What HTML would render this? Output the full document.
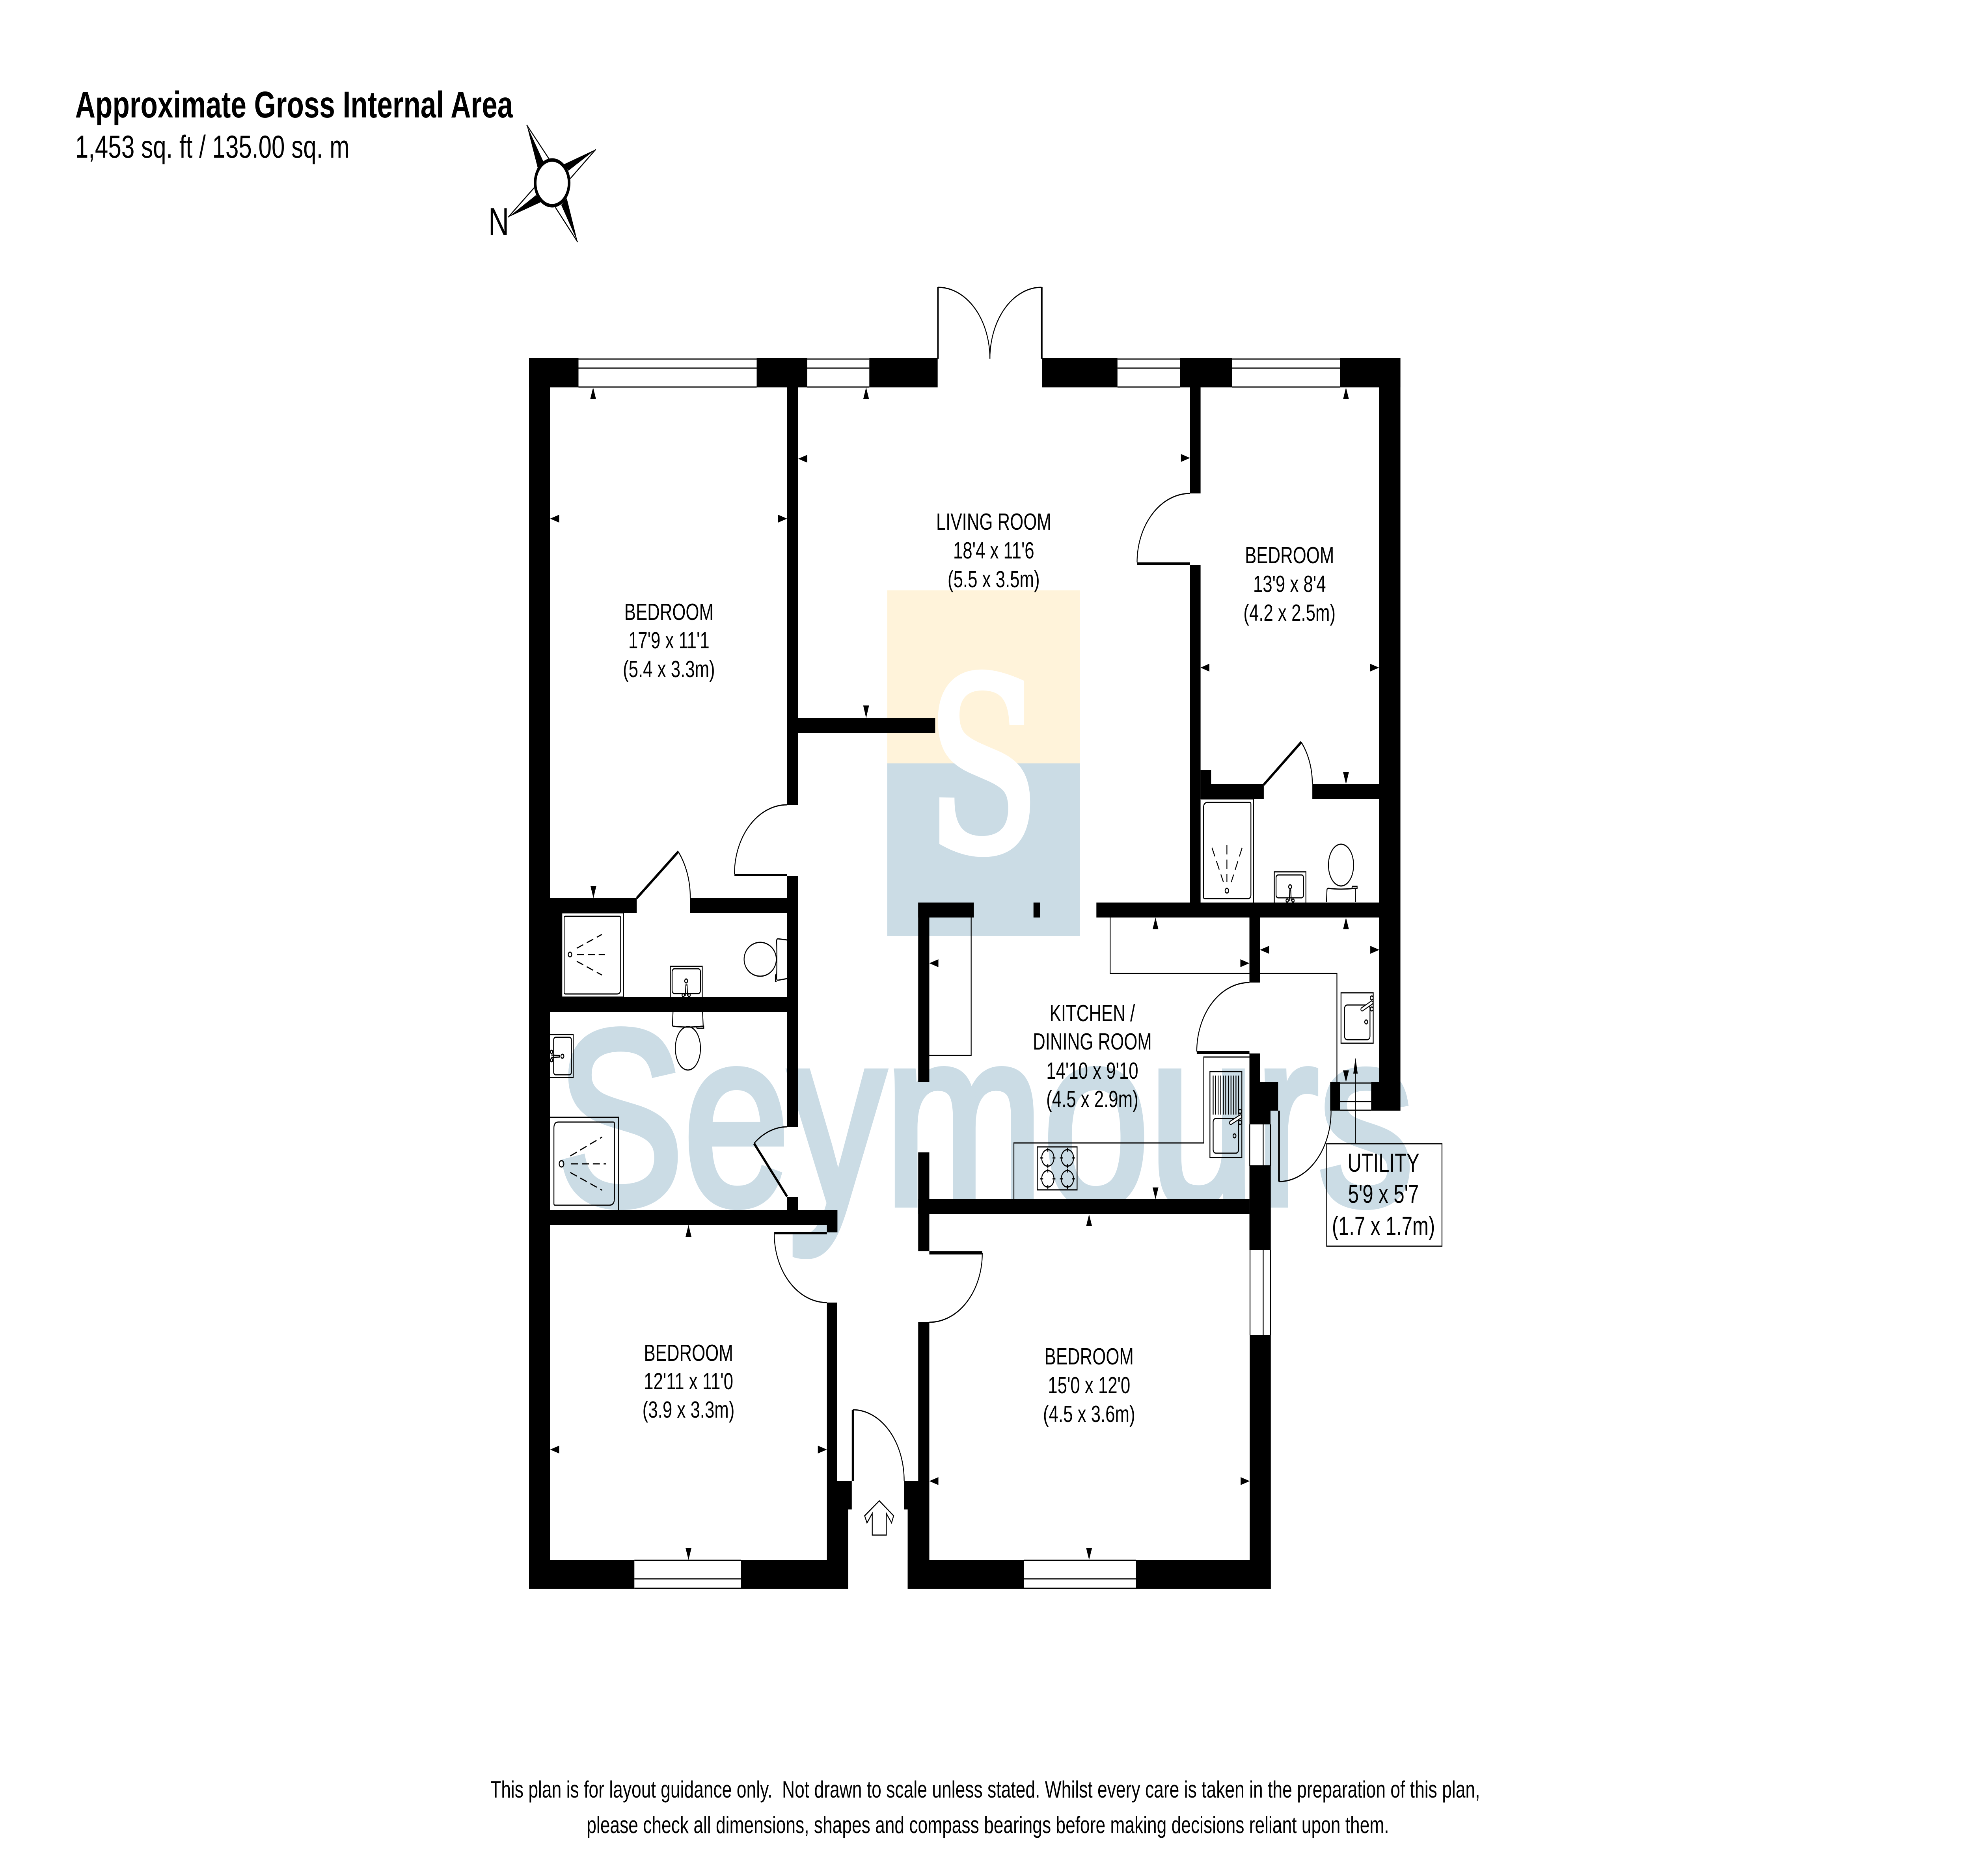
<!DOCTYPE html>
<html lang="en">
<head>
<meta charset="utf-8">
<title>Floor plan</title>
<style>
html,body{margin:0;padding:0;background:#fff;width:100%;height:100%;overflow:hidden}
svg{display:block;width:100vw;height:4760px}
text{font-family:"Liberation Sans",Arial,sans-serif;fill:#000}
.r{font-size:59px;text-anchor:middle}
.u{font-size:66px;text-anchor:middle}
.t{fill:none;stroke:#000;stroke-width:3}
.d{fill:none;stroke:#000;stroke-width:3;stroke-dasharray:24 13}
</style>
</head>
<body>
<svg xmlns="http://www.w3.org/2000/svg" viewBox="0 0 6736 4760" preserveAspectRatio="none">
<rect width="6736" height="4760" fill="#fff"/>

<!-- logo -->
<rect x="3032" y="1498" width="659" height="439" fill="#fff3da"/>
<rect x="3032" y="1937" width="659" height="438" fill="#cbdce5"/>
<text transform="translate(3360,2155) scale(.93,1)" text-anchor="middle" style="font-family:'DejaVu Serif',serif;font-size:600px;fill:#fff;stroke:#fff;stroke-width:22px">S</text>

<!-- watermark -->
<text x="1902" y="3054" textLength="2929" lengthAdjust="spacingAndGlyphs" style="font-size:630px;fill:#cbdce5;stroke:#cbdce5;stroke-width:20px">Seymours</text>

<!-- header -->
<text x="257" y="298" textLength="1496" lengthAdjust="spacingAndGlyphs" style="font-size:95px;font-weight:bold">Approximate Gross Internal Area</text>
<text x="257" y="400" textLength="937" lengthAdjust="spacingAndGlyphs" style="font-size:81px">1,453 sq. ft / 135.00 sq. m</text>

<!-- compass -->
<g>
<polygon points="1800,317 1838,427 1857,410" fill="#000"/>
<line x1="1800" y1="317" x2="1877" y2="404" stroke="#000" stroke-width="3"/>
<polygon points="2036,379 1927,417 1943,433" fill="#000"/>
<line x1="2036" y1="379" x2="1949" y2="453" stroke="#000" stroke-width="3"/>
<polygon points="1974,614 1937,503 1918,520" fill="#000"/>
<line x1="1974" y1="614" x2="1898" y2="526" stroke="#000" stroke-width="3"/>
<polygon points="1737,551 1848,513 1832,495" fill="#000"/>
<line x1="1737" y1="551" x2="1826" y2="476" stroke="#000" stroke-width="3"/>
<circle cx="1887" cy="464" r="58" fill="#fff" stroke="#000" stroke-width="9"/>
<text x="1669" y="596" style="font-size:98px">N</text>
</g>

<!-- walls -->
<g fill="#000">
<rect x="1808" y="909" width="169" height="74"/>
<rect x="2586" y="909" width="173" height="74"/>
<rect x="2971" y="909" width="232" height="74"/>
<rect x="3562" y="909" width="257" height="74"/>
<rect x="4033" y="909" width="178" height="74"/>
<rect x="4580" y="909" width="206" height="74"/>
<rect x="1808" y="909" width="72" height="3122"/>
<rect x="4713" y="909" width="73" height="1909"/>
<rect x="2690" y="983" width="38" height="1059"/>
<rect x="2690" y="2222" width="38" height="638"/>
<rect x="2690" y="3037" width="38" height="33"/>
<rect x="4067" y="983" width="36" height="269"/>
<rect x="4067" y="1433" width="36" height="857"/>
<rect x="2728" y="1822" width="468" height="38"/>
<rect x="4103" y="1990" width="216" height="37"/>
<rect x="4103" y="1953" width="36" height="37"/>
<rect x="4485" y="1990" width="228" height="37"/>
<rect x="3747" y="2290" width="966" height="38"/>
<rect x="3532" y="2290" width="23" height="38"/>
<rect x="3138" y="2290" width="190" height="38"/>
<rect x="3138" y="2290" width="38" height="456"/>
<rect x="3138" y="2924" width="38" height="251"/>
<rect x="3138" y="3355" width="38" height="402"/>
<rect x="4270" y="2328" width="36" height="165"/>
<rect x="4270" y="2673" width="36" height="73"/>
<rect x="4270" y="2746" width="98" height="72"/>
<rect x="4270" y="2818" width="72" height="35"/>
<rect x="4270" y="2959" width="73" height="213"/>
<rect x="4271" y="3388" width="72" height="643"/>
<rect x="3138" y="3043" width="1132" height="38"/>
<rect x="1880" y="2279" width="296" height="37"/>
<rect x="2358" y="2279" width="332" height="37"/>
<rect x="1880" y="2316" width="40" height="214"/>
<rect x="1880" y="2530" width="810" height="38"/>
<rect x="1880" y="3070" width="982" height="38"/>
<rect x="2826" y="3108" width="36" height="19"/>
<rect x="2826" y="3305" width="35" height="452"/>
<rect x="2826" y="3757" width="85" height="73"/>
<rect x="2826" y="3830" width="73" height="201"/>
<rect x="1808" y="3958" width="360" height="73"/>
<rect x="2532" y="3958" width="367" height="73"/>
<rect x="3102" y="3958" width="398" height="73"/>
<rect x="3882" y="3958" width="461" height="73"/>
<rect x="3090" y="3757" width="86" height="73"/>
<rect x="3102" y="3830" width="74" height="201"/>
<rect x="4546" y="2746" width="34" height="72"/>
<rect x="4686" y="2746" width="100" height="72"/>

<!-- door leaves -->
<rect x="3203" y="728" width="5" height="182"/>
<rect x="3557" y="728" width="6" height="182"/>
<rect x="3886" y="1427" width="181" height="6"/>
<rect x="2510" y="2217" width="180" height="6"/>
<rect x="2646" y="3126" width="180" height="6"/>
<rect x="3176" y="3175" width="181" height="8"/>
<rect x="4090" y="2666" width="180" height="8"/>
<rect x="4368" y="2818" width="6" height="180"/>
<rect x="2911" y="3577" width="7" height="180"/>
</g>
<g fill="none" stroke="#000" stroke-width="7">
<line x1="4319" y1="1991" x2="4447" y2="1883"/>
<line x1="2176" y1="2279" x2="2318" y2="2161"/>
<line x1="2577" y1="2901" x2="2690" y2="3036"/>
</g>

<!-- door arcs -->
<g class="t">
<path class="t" d="M3206,729A177,181 0 0 1 3383,910"/>
<path class="t" d="M3559,729A176,181 0 0 0 3383,910"/>
<path class="t" d="M3203,910V983"/>
<path class="t" d="M3886,1427A181,175 0 0 1 4067,1252"/>
<path class="t" d="M4447,1883A166,166 0 0 1 4485,1990"/>
<path class="t" d="M2510,2218A180,176 0 0 1 2690,2042"/>
<path class="t" d="M2318,2161A183,183 0 0 1 2359,2279"/>
<path class="t" d="M2577,2901A177,177 0 0 1 2690,2859"/>
<path class="t" d="M2646,3130A180,175 0 0 0 2826,3305"/>
<path class="t" d="M3357,3180A181,175 0 0 1 3176,3355"/>
<path class="t" d="M4090,2668A180,175 0 0 1 4270,2493"/>
<path class="t" d="M4371,2998A178,179 0 0 0 4549,2819"/>
<path class="t" d="M2914,3577A176,180 0 0 1 3090,3757"/>
</g>

<!-- windows -->
<g class="t">
<path class="t" d="M1977,911H2586M1977,934H2586M1977,982H2586"/>
<path class="t" d="M2759,911H2971M2759,934H2971M2759,982H2971"/>
<path class="t" d="M3819,911H4033M3819,934H4033M3819,982H4033"/>
<path class="t" d="M4211,911H4580M4211,934H4580M4211,982H4580"/>
<path class="t" d="M4580,2748H4686M4580,2795H4686M4580,2817H4686"/>
<path class="t" d="M4271,2853V2959M4317,2853V2959M4342,2853V2959M4271,2958H4342"/>
<path class="t" d="M4272,3172V3388M4317,3172V3388M4342,3172V3388"/>
<path class="t" d="M2168,3959H2532M2168,4006H2532M2168,4030H2532"/>
<path class="t" d="M3500,3959H3882M3500,4006H3882M3500,4030H3882"/>
</g>

<!-- kitchen units -->
<path class="t" d="M3319,2328V2678H3176"/>
<path class="t" d="M3794,2328V2470H4270M4306,2470H4569V2746"/>
<path class="t" d="M4270,2682H4114V2900H3465V3043"/>

<!-- hob -->
<rect class="t" x="3545" y="2910" width="136" height="109"/>
<g class="t">
<circle class="t" cx="3581" cy="2938" r="21"/>
<circle class="t" cx="3648" cy="2938" r="21"/>
<circle class="t" cx="3581" cy="2991" r="21"/>
<circle class="t" cx="3648" cy="2991" r="21"/>
<path class="t" d="M3555,2938h10M3597,2938h10M3581,2912v10M3581,2954v10M3622,2938h10M3664,2938h10M3648,2912v10M3648,2954v10M3555,2991h10M3597,2991h10M3581,2965v10M3581,3007v10M3622,2991h10M3664,2991h10M3648,2965v10M3648,3007v10"/>
</g>

<!-- kitchen sink -->
<rect class="t" x="4135" y="2719" width="109" height="218"/>
<rect class="t" x="4146" y="2838" width="87" height="88" rx="9"/>
<path class="t" d="M4146,2729v99M4154,2729v99M4163,2729v99M4172,2729v99M4181,2729v99M4189,2729v99M4198,2729v99M4207,2729v99M4216,2729v99M4224,2729v99M4233,2729v99"/>
<circle class="t" cx="4238" cy="2820" r="5"/>
<circle class="t" cx="4238" cy="2848" r="5"/>
<circle class="t" cx="4219" cy="2882" r="5"/>
<path d="M4206,2849L4239,2833" fill="none" stroke="#000" stroke-width="11" stroke-linecap="round"/>
<path d="M4206,2849L4239,2833" fill="none" stroke="#fff" stroke-width="6" stroke-linecap="round"/>

<!-- utility sink -->
<rect class="t" x="4583" y="2519" width="110" height="128"/>
<rect class="t" x="4595" y="2550" width="87" height="88" rx="9"/>
<circle class="t" cx="4688" cy="2532" r="5"/>
<circle class="t" cx="4688" cy="2560" r="5"/>
<circle class="t" cx="4669" cy="2593" r="5"/>
<path d="M4655,2561L4688,2544" fill="none" stroke="#000" stroke-width="11" stroke-linecap="round"/>
<path d="M4655,2561L4688,2544" fill="none" stroke="#fff" stroke-width="6" stroke-linecap="round"/>

<!-- utility arrows -->
<line x1="4632" y1="2724" x2="4632" y2="2902" stroke="#000" stroke-width="3"/>
<polygon points="4632.5,2684 4640,2724 4625,2724" fill="#000"/>

<!-- shower 1 (left upper) -->
<rect class="t" x="1920" y="2316" width="211" height="214"/>
<path class="t" d="M1932,2325H2117Q2121,2325 2121,2329V2510Q2121,2522 2109,2522H1932Q1928,2522 1928,2518V2329Q1928,2325 1932,2325Z"/>
<circle class="t" cx="1948" cy="2422" r="6"/>
<path class="d" d="M1971,2406L2057,2371M1972,2422H2067M1971,2439L2057,2474"/>

<!-- shower 2 (left lower) -->
<path class="t" d="M1880,2835H2114V3070"/>
<path class="t" d="M1908,2847H2096Q2100,2847 2100,2851V3040Q2100,3058 2082,3058H1897Q1893,3058 1893,3054V2862Q1893,2847 1908,2847Z"/>
<circle class="t" cx="1919" cy="2953" r="8"/>
<path class="d" d="M1949,2933L2058,2885M1952,2953H2072M1949,2975L2058,3020"/>

<!-- shower 3 (right) -->
<path class="t" d="M4104,2027H4284V2290"/>
<path class="t" d="M4127,2036H4271Q4275,2036 4275,2040V2270Q4275,2280 4265,2280H4117Q4113,2280 4113,2276V2050Q4113,2036 4127,2036Z"/>
<circle class="t" cx="4193" cy="2260" r="6"/>
<path class="d" d="M4193,2144V2238M4142,2151L4181,2238M4245,2151L4208,2238"/>

<!-- sink A -->
<path class="t" d="M2291,2530V2452H2400V2530"/>
<rect class="t" x="2297" y="2458" width="97" height="63" rx="8"/>
<circle class="t" cx="2345" cy="2489" r="5"/>
<path class="t" d="M2342,2527L2344,2499H2348L2350,2527"/>
<circle class="t" cx="2335" cy="2525" r="4"/>
<circle class="t" cx="2355" cy="2525" r="4"/>

<!-- sink B -->
<path class="t" d="M1880,2625H1959V2734H1880"/>
<rect class="t" x="1892" y="2632" width="61" height="95" rx="7"/>
<circle class="t" cx="1922" cy="2680" r="5"/>
<path class="t" d="M1884,2677L1912,2678V2682L1884,2683"/>
<circle class="t" cx="1885" cy="2669" r="4"/>
<circle class="t" cx="1885" cy="2690" r="4"/>

<!-- sink C -->
<path class="t" d="M4355,2290V2212H4463V2290"/>
<rect class="t" x="4361" y="2220" width="94" height="58" rx="7"/>
<circle class="t" cx="4409" cy="2250" r="5"/>
<path class="t" d="M4406,2286L4408,2258H4411L4413,2286"/>
<circle class="t" cx="4399" cy="2285" r="4"/>
<circle class="t" cx="4419" cy="2285" r="4"/>

<!-- toilets -->
<ellipse class="t" cx="2598" cy="2434" rx="55" ry="43"/>
<path class="t" d="M2690,2385L2659,2382Q2654,2382 2654,2388Q2656,2434 2654,2482Q2654,2488 2660,2487L2690,2483"/>
<path class="t" d="M2654,2472L2650,2474V2490H2654"/>
<ellipse class="t" cx="2351" cy="2660" rx="43" ry="55"/>
<path class="t" d="M2300,2568L2298,2600Q2298,2604 2302,2604Q2350,2608 2400,2604Q2404,2604 2403,2600L2401,2568"/>
<path class="t" d="M2380,2604L2382,2609H2405V2604H2394"/>
<ellipse class="t" cx="4583" cy="2195" rx="43" ry="53"/>
<path class="t" d="M4533,2289L4535,2258Q4535,2254 4540,2254Q4583,2258 4628,2254Q4632,2254 4632,2258L4633,2289"/>
<path class="t" d="M4620,2254L4622,2249H4638V2254H4626"/>

<!-- dimension arrows -->
<g fill="#000">
<polygon points="2027,983 2037,1013 2017,1013"/>
<polygon points="2960,983 2970,1013 2950,1013"/>
<polygon points="3949,2328 3959,2358 3939,2358"/>
<polygon points="4600,2328 4610,2358 4590,2358"/>
<polygon points="4600,983 4610,1013 4590,1013"/>
<polygon points="2353,3108 2363,3138 2343,3138"/>
<polygon points="3722,3081 3732,3111 3712,3111"/>
<polygon points="2960,1822 2970,1790 2950,1790"/>
<polygon points="4600,1990 4610,1959 4590,1959"/>
<polygon points="2028,2279 2038,2248 2018,2248"/>
<polygon points="3949,3043 3959,3013 3939,3013"/>
<polygon points="4600,2746 4610,2716 4590,2716"/>
<polygon points="2353,3958 2363,3928 2343,3928"/>
<polygon points="3722,3958 3732,3928 3712,3928"/>
<polygon points="1880,1316 1911,1306 1911,1326"/>
<polygon points="2728,1164 2759,1154 2759,1174"/>
<polygon points="4103,1694 4133,1684 4133,1704"/>
<polygon points="3176,2444 3207,2434 3207,2454"/>
<polygon points="4306,2410 4337,2400 4337,2420"/>
<polygon points="1880,3678 1911,3668 1911,3688"/>
<polygon points="3176,3758 3207,3748 3207,3768"/>
<polygon points="2690,1316 2659,1306 2659,1326"/>
<polygon points="4067,1162 4036,1152 4036,1172"/>
<polygon points="4713,1694 4682,1684 4682,1704"/>
<polygon points="4270,2444 4239,2434 4239,2454"/>
<polygon points="4714,2410 4683,2400 4683,2420"/>
<polygon points="2826,3678 2795,3668 2795,3688"/>
<polygon points="4271,3758 4240,3748 4240,3768"/>
</g>

<!-- entry arrow -->
<polygon points="3005,3808 3054,3846 3047,3864 3029,3840 3029,3895 2981,3895 2981,3840 2963,3864 2955,3846" fill="#fff" stroke="#000" stroke-width="3"/>

<!-- utility box -->
<rect class="t" x="4534" y="2902" width="394" height="260"/>

<!-- room labels -->
<text class="r" x="2286" y="1573">BEDROOM</text>
<text class="r" x="2286" y="1645">17'9 x 11'1</text>
<text class="r" x="2286" y="1718">(5.4 x 3.3m)</text>

<text class="r" x="3396" y="1344">LIVING ROOM</text>
<text class="r" x="3396" y="1417">18'4 x 11'6</text>
<text class="r" x="3396" y="1490">(5.5 x 3.5m)</text>

<text class="r" x="4407" y="1429">BEDROOM</text>
<text class="r" x="4407" y="1502">13'9 x 8'4</text>
<text class="r" x="4407" y="1575">(4.2 x 2.5m)</text>

<text class="r" x="3733" y="2591">KITCHEN /</text>
<text class="r" x="3733" y="2663">DINING ROOM</text>
<text class="r" x="3733" y="2737">14'10 x 9'10</text>
<text class="r" x="3733" y="2809">(4.5 x 2.9m)</text>

<text class="u" x="4728" y="2973">UTILITY</text>
<text class="u" x="4728" y="3052">5'9 x 5'7</text>
<text class="u" x="4728" y="3133">(1.7 x 1.7m)</text>

<text class="r" x="2353" y="3453">BEDROOM</text>
<text class="r" x="2353" y="3525">12'11 x 11'0</text>
<text class="r" x="2353" y="3597">(3.9 x 3.3m)</text>

<text class="r" x="3722" y="3462">BEDROOM</text>
<text class="r" x="3722" y="3535">15'0 x 12'0</text>
<text class="r" x="3722" y="3608">(4.5 x 3.6m)</text>

<!-- footer -->
<text x="1676" y="4561" textLength="3382" lengthAdjust="spacingAndGlyphs" xml:space="preserve" style="font-size:60px;white-space:pre">This plan is for layout guidance only.  Not drawn to scale unless stated. Whilst every care is taken in the preparation of this plan,</text>
<text x="2005" y="4651" textLength="2742" lengthAdjust="spacingAndGlyphs" style="font-size:60px">please check all dimensions, shapes and compass bearings before making decisions reliant upon them.</text>
</svg>
</body>
</html>
